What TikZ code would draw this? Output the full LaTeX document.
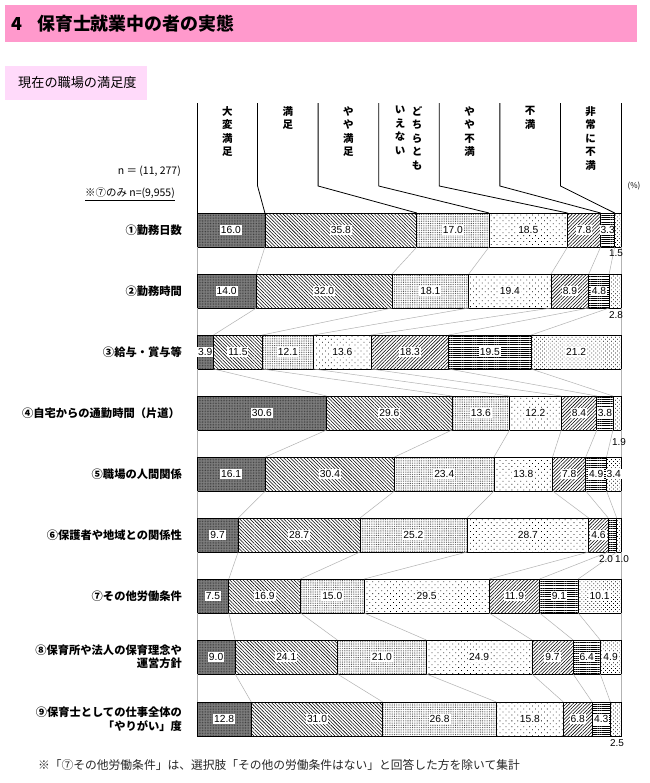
\documentclass[tikz,border=0pt]{standalone}
\usepackage{fontspec}
\setmainfont{Noto Sans CJK JP}
\newfontfamily\numfont{Liberation Sans}
\usetikzlibrary{patterns.meta}
\definecolor{hdrpink}{RGB}{255,153,204}
\definecolor{subpink}{RGB}{255,218,250}
\tikzset{
  every node/.style={inner sep=0pt},
  segbox/.style={draw=black, line width=0.8pt},
  c1/.style={preaction={fill=black!50}, pattern={Dots[distance=1.6pt,radius=0.45pt]}, pattern color=black!80},
  c2/.style={pattern={Lines[angle=-45,distance=2.4pt,line width=0.55pt]}},
  c3/.style={pattern={Dots[distance=1.8pt,radius=0.45pt]}, pattern color=black!80},
  c4/.style={pattern={Dots[distance=4.2pt,angle=45,radius=0.55pt]}},
  c5/.style={pattern={Lines[angle=45,distance=2.4pt,line width=0.55pt]}},
  c6/.style={pattern={Lines[angle=0,distance=2.2pt,line width=0.65pt]}},
  c7/.style={pattern={Dots[distance=2.8pt,angle=45,radius=0.5pt]}},
  val/.style={fill=white, inner xsep=1pt, inner ysep=1.8pt, font=\numfont\fontsize{10.3}{11}\selectfont},
  outval/.style={font=\numfont\fontsize{10}{11}\selectfont},
  conn/.style={draw=black!30, line width=0.5pt},
  legline/.style={draw=black, line width=0.8pt},
  catlabel/.style={anchor=east, align=right, font=\bfseries\fontsize{11.3}{13.5}\selectfont},
  legtext/.style={anchor=north, align=center, font=\bfseries\fontsize{10.5}{13.6}\selectfont},
}
\newcommand\barseg[5]{%
  \path[#1,segbox] (#2,#4) rectangle (#3,#4+34);
  \ifdim #5pt<3pt\relax\else
    \node[val] at ({(#2+#3)/2},#4+17) {#5};
  \fi}
\newcommand\drawbar[9]{%
  \pgfmathsetmacro\bkk{424/(#3+#4+#5+#6+#7+#8+#9)}%
  \pgfmathsetmacro\bpA{197}%
  \pgfmathsetmacro\bpB{\bpA+#3*\bkk}%
  \pgfmathsetmacro\bpC{\bpB+#4*\bkk}%
  \pgfmathsetmacro\bpD{\bpC+#5*\bkk}%
  \pgfmathsetmacro\bpE{\bpD+#6*\bkk}%
  \pgfmathsetmacro\bpF{\bpE+#7*\bkk}%
  \pgfmathsetmacro\bpG{\bpF+#8*\bkk}%
  \pgfmathsetmacro\bpH{621}%
  \barseg{c1}{\bpA}{\bpB}{#2}{#3}%
  \barseg{c2}{\bpB}{\bpC}{#2}{#4}%
  \barseg{c3}{\bpC}{\bpD}{#2}{#5}%
  \barseg{c4}{\bpD}{\bpE}{#2}{#6}%
  \barseg{c5}{\bpE}{\bpF}{#2}{#7}%
  \barseg{c6}{\bpF}{\bpG}{#2}{#8}%
  \barseg{c7}{\bpG}{\bpH}{#2}{#9}%
  \foreach \n/\xx in {0/\bpA,1/\bpB,2/\bpC,3/\bpD,4/\bpE,5/\bpF,6/\bpG,7/\bpH}{%
    \coordinate (t#1-\n) at (\xx,#2);
    \coordinate (u#1-\n) at (\xx,#2+34);}%
}
\begin{document}
\begin{tikzpicture}[x=1bp,y=-1bp]
\useasboundingbox[fill=white] (0,0) rectangle (650,783);
% header
\fill[hdrpink] (5,5) rectangle (637,42);
\node[anchor=west, font=\bfseries\fontsize{18}{20}\selectfont] (hnum) at (11,23.5) {4};
\node[anchor=west, font=\bfseries\fontsize{18}{20}\selectfont] (htitle) at (37,23.5) {保育士就業中の者の実態};
\fill[subpink] (5,66) rectangle (147,100);
\node[anchor=west, font=\fontsize{13.2}{14}\selectfont] (sub) at (18,83) {現在の職場の満足度};
% n labels
\node[anchor=east, font=\fontsize{10.5}{12}\selectfont] (n1) at (181,171) {n ＝ (11, 277)};
\node[anchor=east, font=\fontsize{10.5}{12}\selectfont] (n2) at (175,194) {\underline{※⑦のみ n=(9,955)}};
\node[font=\fontsize{8}{10}\selectfont] (pct) at (634,186) {(\%)};
% bars
\drawbar{1}{213}{16.0}{35.8}{17.0}{18.5}{7.8}{3.3}{1.5}
\drawbar{2}{274}{14.0}{32.0}{18.1}{19.4}{8.9}{4.8}{2.8}
\drawbar{3}{335}{3.9}{11.5}{12.1}{13.6}{18.3}{19.5}{21.2}
\drawbar{4}{396}{30.6}{29.6}{13.6}{12.2}{8.4}{3.8}{1.9}
\drawbar{5}{457}{16.1}{30.4}{23.4}{13.8}{7.8}{4.9}{3.4}
\drawbar{6}{518}{9.7}{28.7}{25.2}{28.7}{4.6}{2.0}{1.0}
\drawbar{7}{579}{7.5}{16.9}{15.0}{29.5}{11.9}{9.1}{10.1}
\drawbar{8}{640}{9.0}{24.1}{21.0}{24.9}{9.7}{6.4}{4.9}
\drawbar{9}{702}{12.8}{31.0}{26.8}{15.8}{6.8}{4.3}{2.5}
% connectors between bars
\foreach \i [evaluate=\i as \j using int(\i+1)] in {1,...,8}{
  \foreach \n in {0,...,7}{
    \draw[conn] (u\i-\n) -- (t\j-\n);
  }
}
% outside labels
\node[outval] (o1) at (616,253) {1.5};
\node[outval] (o2) at (616,315) {2.8};
\node[outval] (o4) at (619,442) {1.9};
\node[outval] (o6a) at (606,559) {2.0};
\node[outval] (o6b) at (622,559) {1.0};
\node[outval] (o9) at (617,743) {2.5};
% legend lines
\foreach \k in {0,...,7}{
  \coordinate (L\k) at ({197+\k*424/7},103);
  \coordinate (M\k) at ({197+\k*424/7},186);
}
\draw[legline] (L0) -- (t1-0);
\draw[legline] (L7) -- (t1-7);
\foreach \k in {1,...,6}{
  \draw[legline] (L\k) -- (M\k) -- (t1-\k);
}
% legend text
\node[legtext] (g1) at (227.3,106) {大\\変\\満\\足};
\node[legtext] (g2) at (287.9,106) {満\\足};
\node[legtext] (g3) at (348.4,106) {や\\や\\満\\足};
\node[legtext] (g4a) at (417,106) {ど\\ち\\ら\\と\\も};
\node[legtext] (g4b) at (400,106) {い\\え\\な\\い};
\node[legtext] (g5) at (469.6,106) {や\\や\\不\\満};
\node[legtext] (g6) at (530.1,106) {不\\満};
\node[legtext] (g7) at (590.7,106) {非\\常\\に\\不\\満};
% category labels
\node[catlabel] (k1) at (182,230) {①勤務日数};
\node[catlabel] (k2) at (182,291) {②勤務時間};
\node[catlabel] (k3) at (182,352) {③給与・賞与等};
\node[catlabel] (k4) at (180,413) {④自宅からの通勤時間（片道）};
\node[catlabel] (k5) at (182,474) {⑤職場の人間関係};
\node[catlabel] (k6) at (182,535) {⑥保護者や地域との関係性};
\node[catlabel] (k7) at (182,596) {⑦その他労働条件};
\node[catlabel] (k8) at (182,657) {⑧保育所や法人の保育理念や\\運営方針};
\node[catlabel] (k9) at (182,719) {⑨保育士としての仕事全体の\\「やりがい」度};
% footnote
\node[anchor=west, text=black!85, font=\fontsize{11.8}{13}\selectfont] (foot) at (38,765) {※「⑦その他労働条件」は、選択肢「その他の労働条件はない」と回答した方を除いて集計};
\end{tikzpicture}
\end{document}
